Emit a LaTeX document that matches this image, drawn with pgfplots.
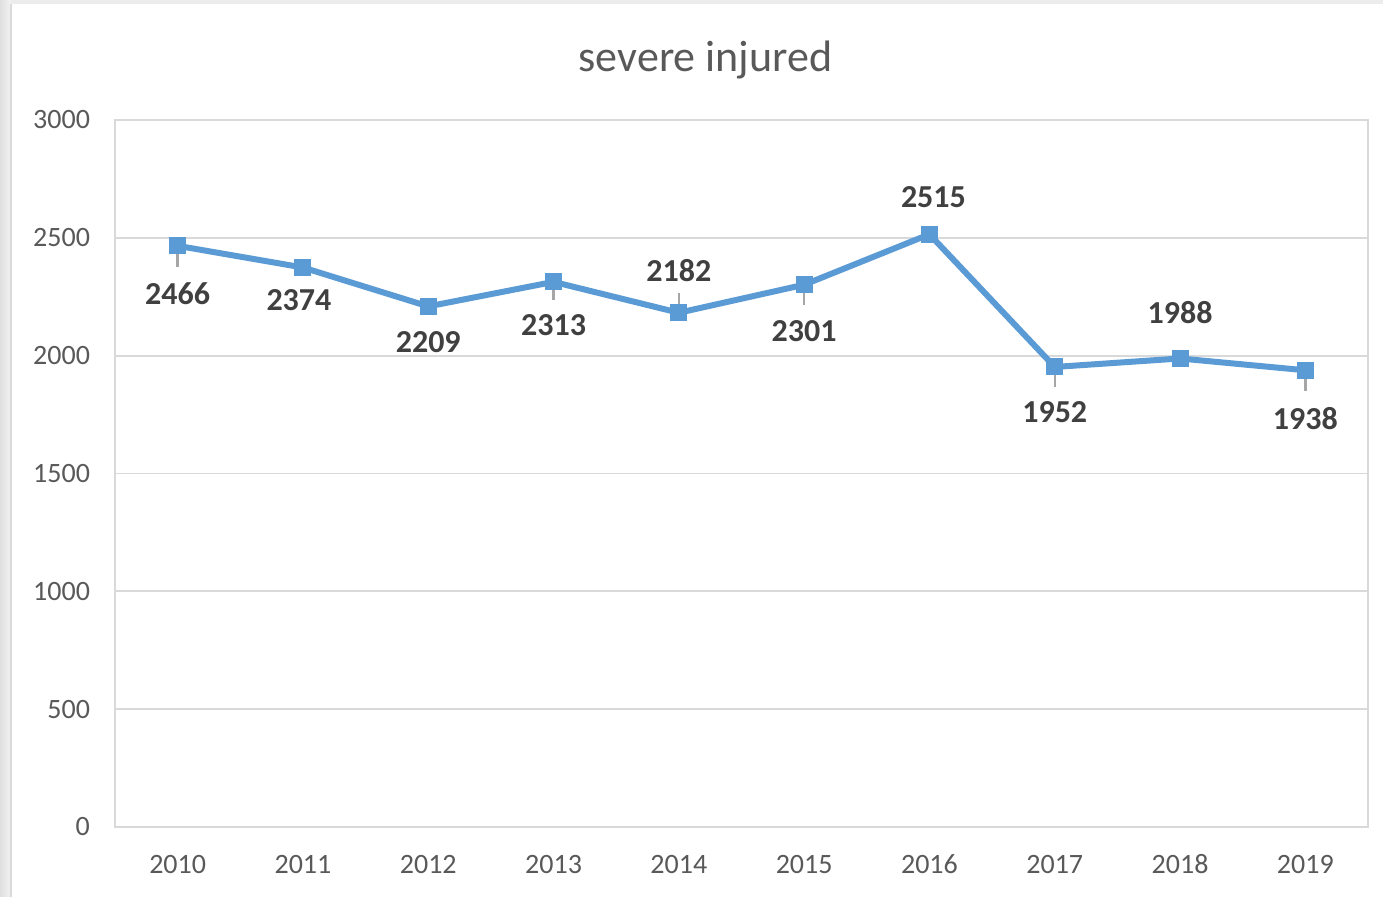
\documentclass[border=0pt]{standalone}
\usepackage{pgfplots}
\pgfplotsset{compat=1.18}
\usepackage{pgfplotstable}
\usepackage{fontspec}
\setmainfont{Carlito}
\definecolor{lineblue}{HTML}{5B9BD5}
\definecolor{gridgrey}{HTML}{D9D9D9}
\definecolor{ticktext}{HTML}{595959}
\definecolor{labeltext}{HTML}{404040}
\definecolor{leader}{HTML}{A6A6A6}
\pgfplotstableread{
x y dy dx
0 2466 -24 0
1 2374 -16.5 -2
2 2209 -18 0
3 2313 -21.5 0
4 2182 21 0
5 2301 -23 0
6 2515 18.5 2
7 1952 -22.5 0
8 1988 23 0
9 1938 -24 0
}\datatable
\begin{document}
\begin{tikzpicture}
\useasboundingbox (-57.5pt,-35pt) rectangle (634pt,413.5pt);
\fill[white] (-57.5pt,-35pt) rectangle (634pt,413.5pt);
\shade[left color=gray!25, right color=gray!10] (-57.5pt,-35pt) rectangle (-52pt,413.5pt);
\fill[gray!15] (-52pt,411.5pt) rectangle (634pt,413.5pt);
\draw[gray!30, line width=0.8pt] (-52pt,-35pt) -- (-52pt,411.5pt);
\begin{axis}[
  at={(0,0)}, anchor=south west,
  scale only axis,
  width=626.5pt, height=353.5pt,
  xmin=-0.5, xmax=9.5,
  ymin=0, ymax=3000,
  ytick={0,500,...,3000},
  xtick={0,...,9},
  xticklabels={2010,2011,2012,2013,2014,2015,2016,2017,2018,2019},
  ymajorgrids,
  grid style={gridgrey, line width=0.9pt},
  axis line style={gridgrey, line width=0.9pt},
  major tick length=0pt,
  /pgf/number format/assume math mode=true,
  /pgf/number format/1000 sep={},
  tick label style={font=\fontsize{14}{16}\selectfont, text=ticktext},
  yticklabel style={xshift=-9pt},
  xticklabel style={anchor=base, yshift=-23.5pt},
  title={severe injured},
  title style={font=\fontsize{22}{25}\selectfont, text=ticktext, anchor=center, at={(0.5,1)}, yshift=24pt, xshift=-18pt},
  clip=false,
]
\addplot[draw=none, mark=none, forget plot,
  error bars/.cd, y dir=both, y explicit,
  error bar style={leader, line width=1.2pt}, error mark=none]
  coordinates {
  (0,2466) -= (0,89)
  (3,2313) -= (0,76)
  (4,2182) += (0,85)
  (5,2301) -= (0,85)
  (7,1952) -= (0,85)
  (9,1938) -= (0,89)
  };
\addplot[lineblue, line width=3pt, mark=square*, mark size=4pt,
  mark options={fill=lineblue, draw=lineblue, line width=0pt},
  visualization depends on={\thisrow{dy} \as \dy},
  visualization depends on={\thisrow{dx} \as \dx},
  nodes near coords,
  point meta=explicit symbolic,
  every node near coord/.append style={anchor=center, yshift=\dy pt, xshift=\dx pt,
    font=\fontsize{16}{18}\selectfont\bfseries, text=labeltext}]
  table[x=x, y=y, meta=y] {\datatable};
\end{axis}
\end{tikzpicture}
\end{document}
